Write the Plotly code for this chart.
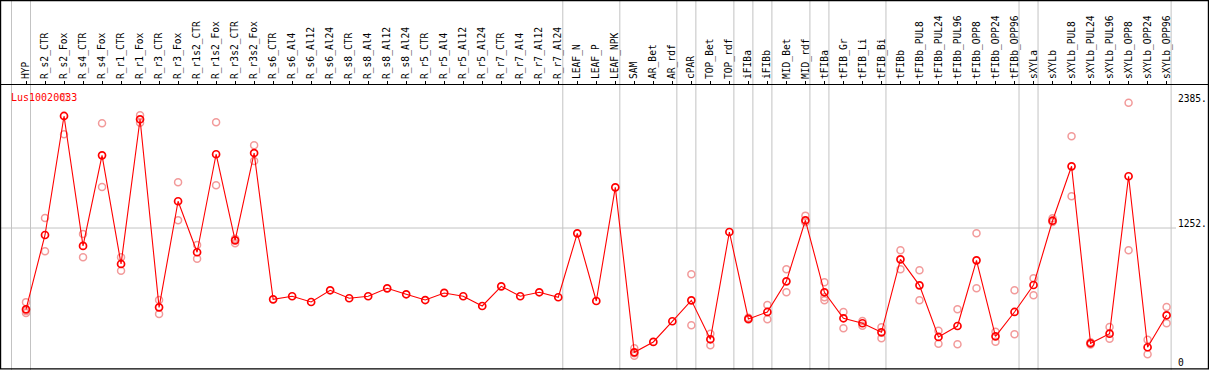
import plotly.graph_objects as go

categories = [
    "HYP", "R_s2_CTR", "R_s2_Fox", "R_s4_CTR", "R_s4_Fox", "R_r1_CTR", "R_r1_Fox",
    "R_r3_CTR", "R_r3_Fox", "R_r1s2_CTR", "R_r1s2_Fox", "R_r3s2_CTR", "R_r3s2_Fox",
    "R_s6_CTR", "R_s6_Al4", "R_s6_Al12", "R_s6_Al24", "R_s8_CTR", "R_s8_Al4",
    "R_s8_Al12", "R_s8_Al24", "R_r5_CTR", "R_r5_Al4", "R_r5_Al12", "R_r5_Al24",
    "R_r7_CTR", "R_r7_Al4", "R_r7_Al12", "R_r7_Al24", "LEAF_N", "LEAF_P", "LEAF_NPK",
    "SAM", "AR_Bet", "AR_rdf", "cPAR", "TOP_Bet", "TOP_rdf", "iFIBa", "iFIBb",
    "MID_Bet", "MID_rdf", "tFIBa", "tFIB_Gr", "tFIB_Li", "tFIB_Bi", "tFIBb",
    "tFIBb_PUL8", "tFIBb_PUL24", "tFIBb_PUL96", "tFIBb_OPP8", "tFIBb_OPP24",
    "tFIBb_OPP96", "sXYLa", "sXYLb", "sXYLb_PUL8", "sXYLb_PUL24", "sXYLb_PUL96",
    "sXYLb_OPP8", "sXYLb_OPP24", "sXYLb_OPP96",
]

mean_values = [
    517, 1189, 2265, 1090, 1909, 927, 2235, 535, 1494, 1033, 1919, 1141, 1930,
    607, 635, 583, 689, 617, 635, 707, 653, 601, 665, 635, 547, 725, 635, 671, 626,
    1204, 592, 1620,
    128, 222, 409, 598, 246, 1216, 430, 493, 770, 1322, 671, 436, 391, 309, 969,
    734, 267, 366, 960, 273, 493, 737, 1318, 1810, 210, 297, 1720, 174, 463,
]

N = None
rep_a = [
    582, 1343, 2434, 1198, 2199, 987, 2271, 601, 1666, 1099, 2208, 1156, 2000,
    N, N, N, N, N, N, N, N, N, N, N, N, N, N, N, N,
    N, N, N,
    165, N, N, 834, 297, N, 440, 556, 879, 1364, 761, 493, 411, 354, 1051,
    870, 324, 517, 1204, 315, 689, 797, 1340, 2082, 220, 357, 2385, 242, 538,
]
rep_b = [
    484, 1042, 2100, 987, 1623, 866, 2204, 475, 1322, 975, 1638, 1114, 1858,
    N, N, N, N, N, N, N, N, N, N, N, N, N, N, N, N,
    N, N, N,
    98, N, N, 372, 192, N, 425, 427, 671, 1304, 598, 345, 369, 255, 879,
    598, 206, 201, 707, 224, 291, 644, 1307, 1539, 200, 251, 1051, 110, 391,
]
rep_c = [
    502, N, N, N, N, N, N, N, N, N, N, N, N,
    N, N, N, N, N, N, N, N, N, N, N, N, N, N, N, N,
    N, N, N,
    120, N, N, N, N, N, N, N, N, N, 626, N, N, N, N,
    N, N, N, N, N, N, N, N, N, N, N, N, N, N,
]

# group separators: gridline drawn just after these category indices
group_ends = [-1, 0, 28, 31, 34, 35, 37, 38, 39, 41, 42, 45, 52, 53, 60]

y_tick_vals = [0, 1252, 2385]
y_tick_text = ["0", "1252.", "2385."]
gene_id = "Lus10020033"

x_idx = list(range(len(categories)))
W, H = 1209, 370
FONT = "DejaVu Sans Mono"

fig = go.Figure()

for reps in (rep_a, rep_b, rep_c):
    fig.add_trace(go.Scatter(
        x=x_idx, y=reps, mode="markers",
        marker=dict(symbol="circle-open", size=7, color="#f29a9a",
                    line=dict(width=1.5, color="#f29a9a")),
        hoverinfo="skip", showlegend=False,
    ))

fig.add_trace(go.Scatter(
    x=x_idx, y=mean_values, mode="lines+markers",
    line=dict(color="#ff0000", width=1.1),
    marker=dict(symbol="circle-open", size=7, color="#ff0000",
                line=dict(width=1.7, color="#ff0000")),
    showlegend=False,
))

shapes = []
for g in group_ends:
    shapes.append(dict(type="line", xref="x", yref="paper", x0=g + 0.237, x1=g + 0.237,
                       y0=0, y1=1, line=dict(color="#c3c3c3", width=1), layer="below"))
shapes.append(dict(type="line", xref="paper", yref="y", x0=0, x1=1176 / W,
                   y0=y_tick_vals[1], y1=y_tick_vals[1],
                   line=dict(color="#c3c3c3", width=1), layer="below"))
# outer frame
shapes.append(dict(type="rect", xref="paper", yref="paper",
                   x0=0.6 / W, x1=1 - 0.6 / W, y0=1.2 / H, y1=1 - 0.6 / H,
                   line=dict(color="black", width=1.2), fillcolor="rgba(0,0,0,0)"))

fig.update_layout(
    width=W, height=H,
    margin=dict(l=0, r=0, t=0, b=0),
    paper_bgcolor="white", plot_bgcolor="white",
    font=dict(family=FONT, size=10, color="black"),
    shapes=shapes,
    xaxis=dict(
        range=[-26 / 19.01, (W - 26) / 19.01],
        side="top", anchor="y",
        tickmode="array", tickvals=x_idx, ticktext=categories,
        tickangle=-90, ticks="outside", ticklen=3, tickcolor="black", tickwidth=1,
        tickfont=dict(family=FONT, size=9.6, color="black"),
        showline=True, linecolor="black", linewidth=1.2,
        showgrid=False, zeroline=False, fixedrange=True,
    ),
    yaxis=dict(
        domain=[0, 285 / H],
        range=[-31.6, 2545],
        side="right", anchor="free", position=1177 / W,
        tickmode="array", tickvals=y_tick_vals, ticktext=y_tick_text,
        ticks="", ticklabelshift=-4,
        tickfont=dict(family=FONT, size=9.6, color="black"),
        showline=False, showgrid=False, zeroline=False, fixedrange=True,
    ),
    annotations=[dict(
        text=gene_id, xref="paper", yref="paper", x=9 / W, y=1 - 97 / H,
        xanchor="left", yanchor="middle", showarrow=False,
        font=dict(family=FONT, size=10, color="#ff0000"),
    )],
)

fig.write_html(
    "out.html",
    config={"displayModeBar": False},
    post_script="document.body.style.margin='0';document.body.style.overflow='hidden';",
)
